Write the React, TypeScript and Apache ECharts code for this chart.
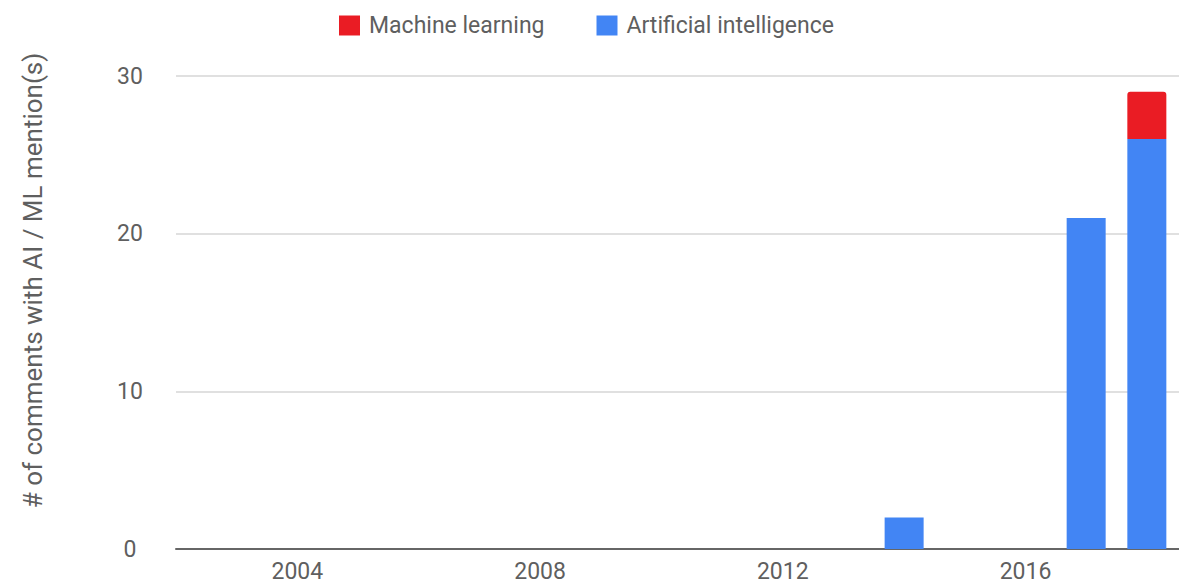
import React, { useEffect, useRef } from "react";
import * as echarts from "echarts";

const years = [2014, 2017, 2018];
const aiValues = [2, 21, 26];
const mlValues = [0, 0, 3];
const xTickLabels = [2004, 2008, 2012, 2016];
const yTicks = [0, 10, 20, 30];
const seriesNames = ["Machine learning", "Artificial intelligence"];

const FONT = "Roboto, 'Noto Sans', Arial, sans-serif";
const TEXT = "#5f5f5f";

export default function App() {
  const ref = useRef<HTMLDivElement>(null);
  useEffect(() => {
    if (!ref.current) return;
    const chart = echarts.init(ref.current, undefined, { renderer: "svg" });
    chart.setOption({
      animation: false,
      backgroundColor: "#ffffff",
      textStyle: { fontFamily: FONT },
      legend: {
        data: seriesNames,
        left: 339,
        top: 14,
        padding: 0,
        itemWidth: 21,
        itemHeight: 20,
        itemGap: 52,
        icon: "rect",
        textStyle: { fontSize: 23, color: TEXT, fontFamily: FONT, padding: [0, 0, 0, 4] },
      },
      grid: { left: 176, right: 0, top: 76, bottom: 36, containLabel: false },
      xAxis: {
        type: "value",
        min: 2002,
        max: 2018.53,
        splitLine: { show: false },
        axisTick: { show: false },
        axisLine: { show: true, lineStyle: { color: "#666", width: 2 } },
        axisLabel: {
          customValues: xTickLabels,
          fontSize: 23,
          color: TEXT,
          fontFamily: FONT,
          margin: 11,
          formatter: (v: number) => String(v),
        },
      },
      yAxis: {
        type: "value",
        min: yTicks[0],
        max: yTicks[yTicks.length - 1],
        interval: 10,
        name: "# of comments with AI / ML mention(s)",
        nameLocation: "middle",
        nameGap: 130,
        nameTextStyle: { fontSize: 26, color: TEXT, fontFamily: FONT, padding: [0, 0, 0, 64] },
        axisLine: { show: false },
        axisTick: { show: false },
        splitLine: { lineStyle: { color: "#e0e0e0", width: 2 } },
        axisLabel: { fontSize: 23, color: TEXT, fontFamily: FONT, align: "center", margin: 46 },
      },
      series: [
        {
          name: "Artificial intelligence",
          type: "bar",
          stack: "total",
          barWidth: 39,
          dimensions: [
            { name: "count", type: "number" },
            { name: "year", type: "number" },
          ],
          encode: { x: "year", y: "count" },
          itemStyle: { color: "#4285f4" },
          data: years.map((y, i) => [aiValues[i], y]),
        },
        {
          name: "Machine learning",
          type: "bar",
          stack: "total",
          barWidth: 39,
          dimensions: [
            { name: "count", type: "number" },
            { name: "year", type: "number" },
          ],
          encode: { x: "year", y: "count" },
          itemStyle: { color: "#ea1c24", borderRadius: [3, 3, 0, 0] },
          data: years.map((y, i) => [mlValues[i], y]),
        },
      ],
    });
    return () => chart.dispose();
  }, []);
  return (
    <div
      ref={ref}
      style={{ position: "absolute", left: 0, top: 0, width: 1179, height: 585 }}
    />
  );
}
